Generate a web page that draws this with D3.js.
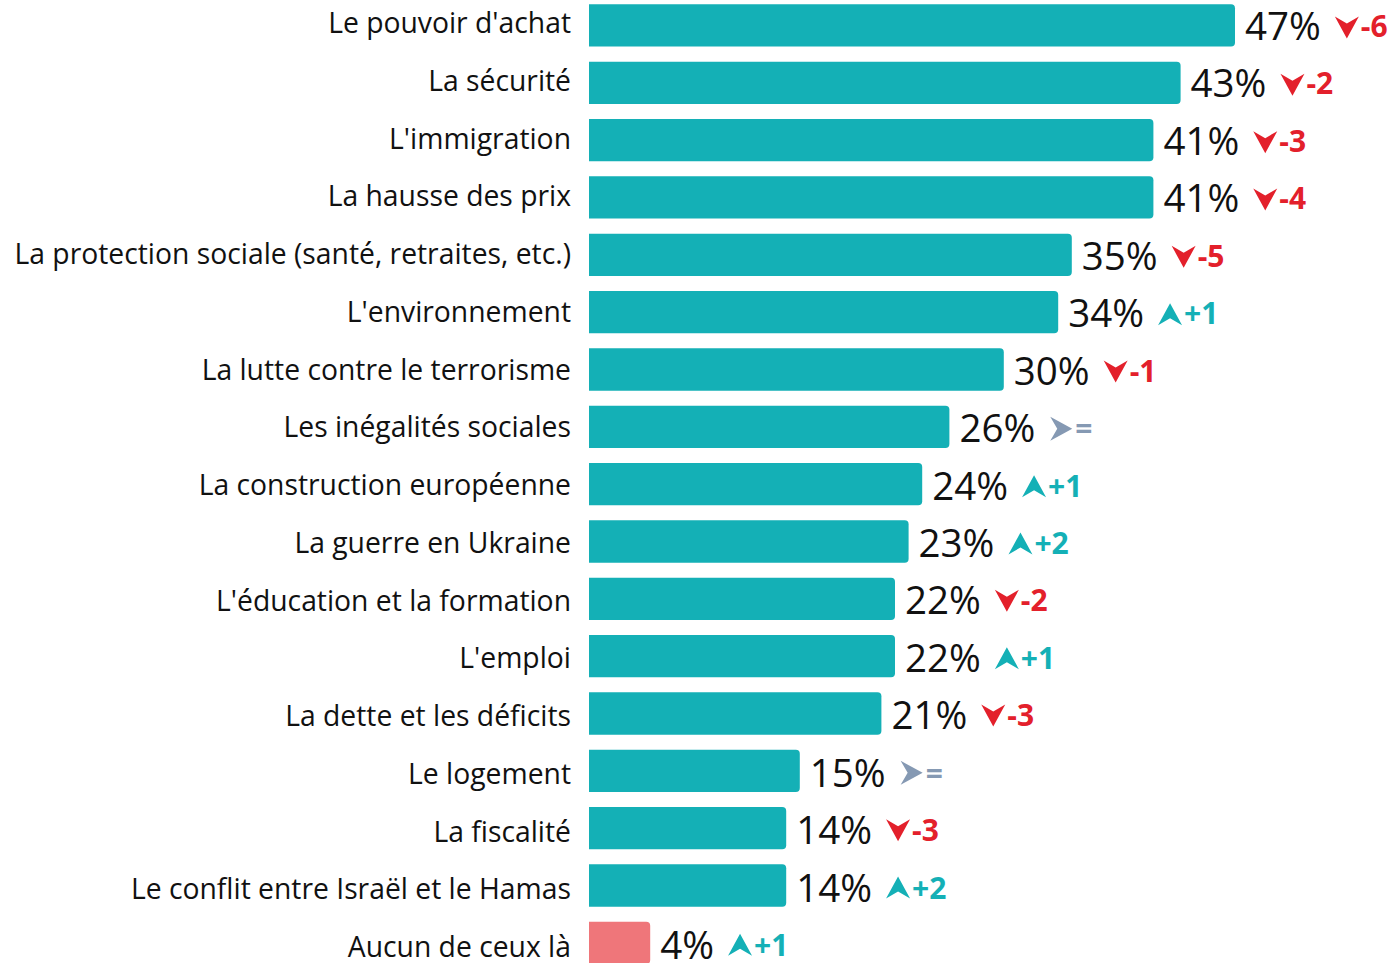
<!DOCTYPE html>
<html>
<head>
<meta charset="utf-8">
<script src="https://cdn.jsdelivr.net/npm/d3@7"></script>
<style>
  html, body { margin: 0; padding: 0; background: #ffffff; }
  svg { display: block; }
</style>
</head>
<body>
<svg id="chart" width="1394" height="963"></svg>
<script>
const categories = [
  "Le pouvoir d'achat",
  "La sécurité",
  "L'immigration",
  "La hausse des prix",
  "La protection sociale (santé, retraites, etc.)",
  "L'environnement",
  "La lutte contre le terrorisme",
  "Les inégalités sociales",
  "La construction européenne",
  "La guerre en Ukraine",
  "L'éducation et la formation",
  "L'emploi",
  "La dette et les déficits",
  "Le logement",
  "La fiscalité",
  "Le conflit entre Israël et le Hamas",
  "Aucun de ceux là"
];
const values = [47, 43, 41, 41, 35, 34, 30, 26, 24, 23, 22, 22, 21, 15, 14, 14, 4];
const changes = [-6, -2, -3, -4, -5, 1, -1, 0, 1, 2, -2, 1, -3, 0, -3, 2, 1];
const highlight = [false, false, false, false, false, false, false, false, false, false, false, false, false, false, false, false, true];

const COLORS = { bar: "#14b0b6", none: "#ef767a", down: "#e3202b", up: "#14b0b6", same: "#8599b3", text: "#111111" };

const svg = d3.select("#chart");
const data = categories.map((c, i) => ({ cat: c, value: values[i], change: changes[i], hl: highlight[i] }));

const x = d3.scaleLinear().domain([-0.5, 47]).range([589, 1235]);
const y = d3.scaleBand().domain(categories).range([4.3, 964]).paddingInner(0.262).paddingOuter(0);
const yCat = d3.scalePoint().domain(categories).range([33, 957]);
const yVal = d3.scalePoint().domain(categories).range([40, 959]);
const yChg = d3.scalePoint().domain(categories).range([37, 956]);

// bars
svg.append("g").selectAll("path").data(data).join("path")
  .attr("d", d => {
    const x0 = x.range()[0], x1 = x(d.value), y0 = y(d.cat), h = y.bandwidth(), r = 4;
    return `M${x0},${y0} H${x1 - r} Q${x1},${y0} ${x1},${y0 + r} V${y0 + h - r} Q${x1},${y0 + h} ${x1 - r},${y0 + h} H${x0} Z`;
  })
  .attr("fill", d => d.hl ? COLORS.none : COLORS.bar);

// category labels
svg.append("g").selectAll("text").data(data).join("text")
  .attr("x", 571)
  .attr("y", d => yCat(d.cat))
  .attr("text-anchor", "end")
  .attr("font-family", "'Open Sans', sans-serif")
  .attr("font-size", 28.3)
  .attr("fill", COLORS.text)
  .text(d => d.cat);

// value labels
const valG = svg.append("g");
const valTexts = valG.selectAll("text").data(data).join("text")
  .attr("x", d => x(d.value) + 10)
  .attr("y", d => yVal(d.cat))
  .attr("font-family", "'Open Sans', sans-serif")
  .attr("font-size", 38.5)
  .attr("fill", COLORS.text)
  .text(d => d.value + "%");

// change indicators
const chgG = svg.append("g");
valTexts.each(function(d) {
  const bb = this.getBBox();
  const ax = bb.x + bb.width + 14 + 12;
  const ay = (y(d.cat) + y.bandwidth() / 2) + 2;
  const dir = d.change > 0 ? "up" : d.change < 0 ? "down" : "same";
  const rot = dir === "up" ? 0 : dir === "down" ? 180 : 90;
  chgG.append("path")
    .attr("d", "M0,-11 L12,11 L0,4 L-12,11 Z")
    .attr("transform", `translate(${ax},${ay}) rotate(${rot})`)
    .attr("fill", COLORS[dir]);
  chgG.append("text")
    .attr("x", ax + 14)
    .attr("y", yChg(d.cat))
    .attr("font-family", "'Open Sans', sans-serif")
    .attr("font-weight", 700)
    .attr("font-size", 30)
    .attr("fill", COLORS[dir])
    .text(dir === "up" ? "+" + d.change : dir === "down" ? "-" + Math.abs(d.change) : "=");
});
</script>
</body>
</html>
